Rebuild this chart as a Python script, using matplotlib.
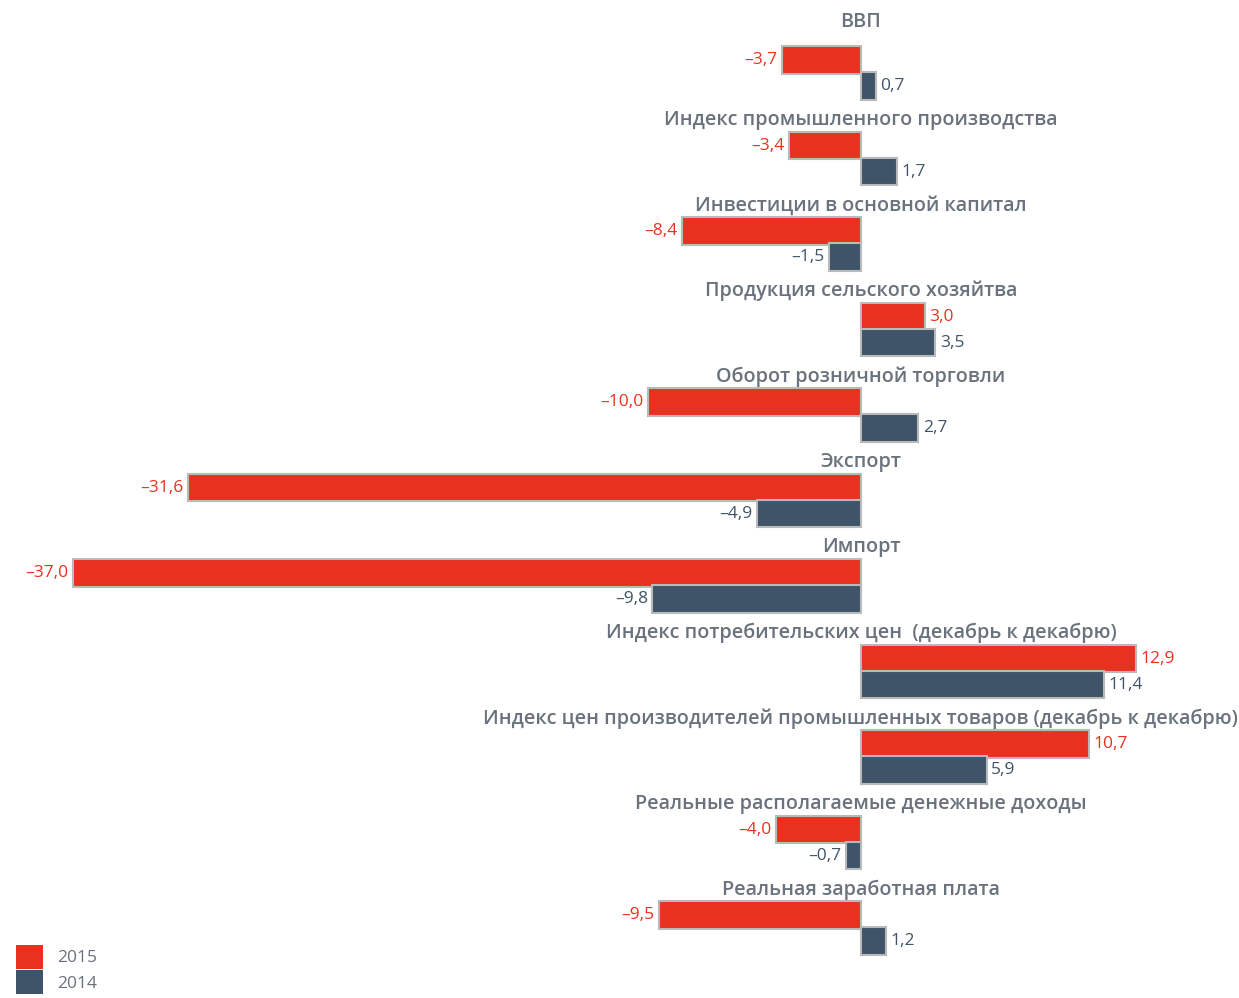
import numpy as np
import matplotlib.pyplot as plt
from matplotlib.patches import Patch

categories = [
    "ВВП",
    "Индекс промышленного производства",
    "Инвестиции в основной капитал",
    "Продукция сельского хозяйтва",
    "Оборот розничной торговли",
    "Экспорт",
    "Импорт",
    "Индекс потребительских цен  (декабрь к декабрю)",
    "Индекс цен производителей промышленных товаров (декабрь к декабрю)",
    "Реальные располагаемые денежные доходы",
    "Реальная заработная плата",
]
vals_2015 = [-3.7, -3.4, -8.4, 3.0, -10.0, -31.6, -37.0, 12.9, 10.7, -4.0, -9.5]
vals_2014 = [0.7, 1.7, -1.5, 3.5, 2.7, -4.9, -9.8, 11.4, 5.9, -0.7, 1.2]

RED = "#e8321f"
BLUE = "#3f5468"
GREY = "#6a727d"

plt.rcParams['font.family'] = ['Open Sans', 'DejaVu Sans']

fig = plt.figure(figsize=(12.39, 9.98), dpi=100)
ax = fig.add_axes([0, 0, 1, 1])
ax.set_xlim(-40.42, 17.75)
ax.set_ylim(10.97, -0.702)
ax.axis('off')

y = np.arange(len(categories))
h = 0.32
off = 0.305

ax.barh(y, vals_2015, height=h, color=RED, edgecolor="#b9b9b9", linewidth=1.5)
ax.barh(y + off, vals_2014, height=h, color=BLUE, edgecolor="#b9b9b9", linewidth=1.5)

def fmt(v):
    s = ("%.1f" % abs(v)).replace(".", ",")
    return ("–" + s) if v < 0 else s

for i in range(len(categories)):
    lab_off = -0.45 if i == 0 else -0.3
    ax.text(0, y[i] + lab_off, categories[i], ha='center', va='center',
            fontsize=14.2, color=GREY, fontweight='semibold')
    for v, yy, c in [(vals_2015[i], y[i], RED), (vals_2014[i], y[i] + off, BLUE)]:
        pad = 0.2
        if v < 0:
            ax.text(v - pad, yy, fmt(v), ha='right', va='center', fontsize=12.5, color=c)
        else:
            ax.text(v + pad, yy, fmt(v), ha='left', va='center', fontsize=12.5, color=c)

handles = [Patch(facecolor=RED, label="2015"), Patch(facecolor=BLUE, label="2014")]
ax.legend(handles=handles, loc='lower left', bbox_to_anchor=(0.0, -0.012),
          frameon=False, handlelength=1.6, handleheight=1.75, labelspacing=0.1,
          handletextpad=0.8, fontsize=12.5, labelcolor=GREY)

fig.savefig("out.png", dpi=100)
